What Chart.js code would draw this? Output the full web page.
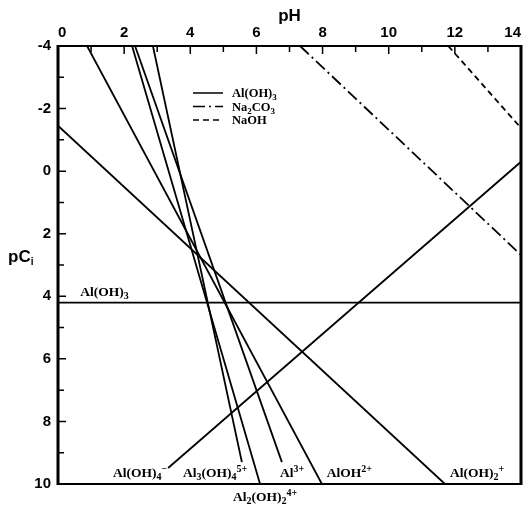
<!DOCTYPE html>
<html>
<head>
<meta charset="utf-8">
<script src="https://cdn.jsdelivr.net/npm/chart.js@4.4.0/dist/chart.umd.min.js"></script>
<style>
  html, body { margin: 0; padding: 0; background: #fff; }
</style>
</head>
<body>
<canvas id="chart" width="526" height="506"></canvas>
<script>
// species names: _{..} = subscript, ^{..} = superscript
const species = ['Al(OH)_{3}', 'Al(OH)_{4}^{\u2212}', 'Al(OH)_{2}^{+}', 'AlOH^{2+}', 'Al^{3+}',
  'Al_{2}(OH)_{2}^{4+}', 'Al_{3}(OH)_{4}^{5+}', 'Na_{2}CO_{3}', 'NaOH'];
// end points of every line (pH, pC)
const linePH = [[0, 14], [3.33, 14], [0, 11.7], [0.88, 7.98], [2.33, 6.77], [2.24, 6.11], [2.87, 5.56], [7.32, 14], [11.8, 14]];
const linePC = [[4.2, 4.2], [9.49, -0.3], [-1.45, 10], [-4, 10], [-4, 9.3], [-4, 10], [-4, 9.3], [-4, 2.68], [-4, -1.38]];
const lineDash = [[], [], [], [], [], [], [], [12, 4, 2, 4], [6, 4]];
// where the species names sit (pH, pC)
const labelPH = [0.67, 3.3, 11.85, 8.13, 6.71, 5.29, 3.78];
const labelPC = [3.83, 9.62, 9.62, 9.62, 9.62, 10.4, 9.62];
const labelAlign = ['left', 'right', 'left', 'left', 'left', 'left', 'left'];
// legend rows (index into species)
const legendItems = [0, 7, 8];

function richParts(str) {
  const parts = [];
  const re = /([_^])\{([^}]*)\}|([^_^]+)/g;
  let m;
  while ((m = re.exec(str))) {
    if (m[3]) parts.push({ t: m[3], k: 0 });
    else parts.push({ t: m[2], k: m[1] === '_' ? 1 : -1 });
  }
  return parts;
}

function drawRich(ctx, str, x, y, size, align) {
  const fam = '"Liberation Serif", serif';
  const small = Math.round(size * 0.72);
  const parts = richParts(str);
  let w = 0;
  parts.forEach(p => {
    ctx.font = `bold ${p.k ? small : size}px ${fam}`;
    p.w = ctx.measureText(p.t).width;
    w += p.w;
  });
  let cx = align === 'right' ? x - w : x;
  const base = y + size * 0.35;
  ctx.textAlign = 'left';
  ctx.textBaseline = 'alphabetic';
  parts.forEach(p => {
    ctx.font = `bold ${p.k ? small : size}px ${fam}`;
    const dy = p.k === 1 ? size * 0.22 : p.k === -1 ? -size * 0.38 : 0;
    ctx.fillText(p.t, cx, base + dy);
    cx += p.w;
  });
}

const extras = {
  id: 'extras',
  afterDatasetsDraw(chart) {
    const ctx = chart.ctx, a = chart.chartArea;
    const xs = chart.scales.x, ys = chart.scales.y;
    ctx.save();
    ctx.strokeStyle = '#000';
    ctx.fillStyle = '#000';

    // frame
    ctx.lineWidth = 2;
    ctx.beginPath();
    ctx.moveTo(a.left, a.top); ctx.lineTo(a.right, a.top);
    ctx.moveTo(a.left, a.bottom); ctx.lineTo(a.right, a.bottom);
    ctx.stroke();
    ctx.lineWidth = 3;
    ctx.beginPath();
    ctx.moveTo(a.left, a.top - 1); ctx.lineTo(a.left, a.bottom + 1);
    ctx.moveTo(a.right, a.top - 1); ctx.lineTo(a.right, a.bottom + 1);
    ctx.stroke();

    // inward ticks
    ctx.lineWidth = 1.5;
    ctx.beginPath();
    for (let v = 0; v <= 14; v++) {
      const px = xs.getPixelForValue(v);
      ctx.moveTo(px, a.top); ctx.lineTo(px, a.top + (v % 2 ? 6 : 8));
    }
    for (let v = -4; v <= 10; v++) {
      const py = ys.getPixelForValue(v);
      ctx.moveTo(a.left, py); ctx.lineTo(a.left + (v % 2 ? 6 : 8), py);
    }
    ctx.stroke();

    // species labels
    labelPH.forEach((ph, i) => {
      drawRich(ctx, species[i], xs.getPixelForValue(ph), ys.getPixelForValue(labelPC[i]), 13.5, labelAlign[i]);
    });

    // legend
    legendItems.forEach((idx, r) => {
      const y = a.top + 47 + r * 13.5;
      const x = a.left + 135;
      ctx.lineWidth = 1.5;
      ctx.setLineDash(lineDash[idx]);
      ctx.beginPath();
      ctx.moveTo(x, y); ctx.lineTo(x + 30, y);
      ctx.stroke();
      ctx.setLineDash([]);
      drawRich(ctx, species[idx], x + 39, y, 12.5, 'left');
    });

    // y title, horizontal
    ctx.font = 'bold 17px "Liberation Sans", sans-serif';
    ctx.textAlign = 'left';
    ctx.textBaseline = 'alphabetic';
    ctx.fillText('pC', 8, 262);
    const w = ctx.measureText('pC').width;
    ctx.font = 'bold 10px "Liberation Sans", sans-serif';
    ctx.fillText('i', 8 + w, 265);
    ctx.restore();
  }
};

const datasets = species.map((name, i) => ({
  label: name,
  data: linePH[i].map((ph, j) => ({ x: ph, y: linePC[i][j] })),
  showLine: true,
  borderColor: '#000',
  borderWidth: 1.8,
  borderDash: lineDash[i],
  pointRadius: 0,
  fill: false
}));

const tickFont = { family: '"Liberation Sans", sans-serif', size: 15, weight: 'bold' };

new Chart(document.getElementById('chart'), {
  type: 'scatter',
  data: { datasets },
  options: {
    responsive: false,
    animation: false,
    devicePixelRatio: 1,
    layout: { padding: { top: 0, left: 0, right: 5, bottom: 22 } },
    plugins: { legend: { display: false }, tooltip: { enabled: false } },
    scales: {
      x: {
        type: 'linear',
        position: 'top',
        min: 0, max: 14,
        grid: { display: false, drawTicks: false },
        border: { display: false },
        title: { display: true, text: 'pH', color: '#000', font: { family: '"Liberation Sans", sans-serif', size: 17, weight: 'bold' }, padding: { top: 6, bottom: 0 } },
        ticks: {
          stepSize: 1, color: '#000', font: tickFont, padding: 4, align: 'inner', maxRotation: 0, autoSkip: false,
          callback: v => (v % 2 === 0 ? String(v) : '')
        },
        afterFit: s => { s.height = 46; s.paddingLeft = 0; s.paddingRight = 0; }
      },
      y: {
        type: 'linear',
        reverse: true,
        min: -4, max: 10,
        grid: { display: false, drawTicks: false },
        border: { display: false },
        ticks: {
          stepSize: 1, color: '#000', font: tickFont, padding: 7, autoSkip: false,
          callback: v => (v % 2 === 0 ? String(v) : '')
        },
        afterFit: s => { s.width = 58; s.paddingTop = 0; s.paddingBottom = 0; }
      }
    }
  },
  plugins: [extras]
});
</script>
</body>
</html>
